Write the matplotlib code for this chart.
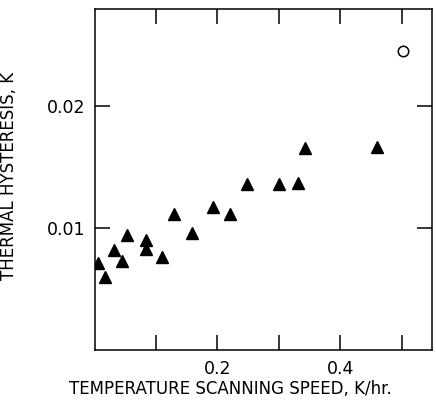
import matplotlib
matplotlib.use("Agg")
import matplotlib.pyplot as plt

# Data
speed_tri = [0.006, 0.017, 0.031, 0.044, 0.053, 0.084, 0.084, 0.110, 0.130,
             0.158, 0.193, 0.221, 0.248, 0.300, 0.331, 0.342, 0.460]
hyst_tri = [0.0071, 0.0060, 0.0082, 0.0073, 0.0094, 0.0090, 0.0083, 0.0076,
            0.0111, 0.0096, 0.0117, 0.0111, 0.0136, 0.0136, 0.0137, 0.0165,
            0.0166]
speed_circ = [0.502]
hyst_circ = [0.0245]

xticks = [0.1, 0.2, 0.3, 0.4, 0.5]
xticklabels = ["", "0.2", "", "0.4", ""]
yticks = [0.01, 0.02]
yticklabels = ["0.01", "0.02"]

plt.rcParams['font.family'] = ['DejaVu Sans']

fig = plt.figure(figsize=(4.36, 4.08), dpi=100)
ax = fig.add_axes([0.217, 0.142, 0.773, 0.836])

ax.plot(speed_tri, hyst_tri, linestyle='none', marker='^', markersize=8.5,
        color='black')
ax.plot(speed_circ, hyst_circ, linestyle='none', marker='o', markersize=7.5,
        markerfacecolor='white', markeredgecolor='black', markeredgewidth=1.1)

ax.set_xlim(0.0, 0.549)
ax.set_ylim(0.0, 0.0279)

ax.set_xticks(xticks)
ax.set_xticklabels(xticklabels)
ax.set_yticks(yticks)
ax.set_yticklabels(yticklabels)

ax.tick_params(direction='in', length=11, width=1.1, top=True, right=True,
               labelsize=12.5, pad=7, color='black')
for s in ax.spines.values():
    s.set_linewidth(1.1)

ax.set_xlabel("TEMPERATURE SCANNING SPEED, K/hr.", fontsize=12)
ax.set_ylabel("THERMAL HYSTERESIS, K", fontsize=12)
ax.xaxis.set_label_coords(0.404, -0.088)
ax.yaxis.set_label_coords(-0.226, 0.51)

fig.savefig("out.png", dpi=100)
